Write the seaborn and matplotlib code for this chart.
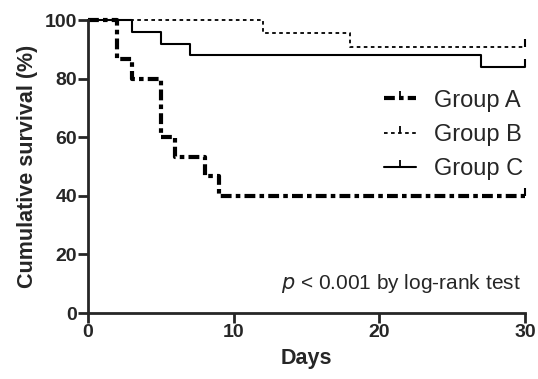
import matplotlib
matplotlib.use("Agg")
import matplotlib.pyplot as plt
import seaborn as sns
import pandas as pd
from matplotlib.lines import Line2D

sns.set_theme(style="ticks")
plt.rcParams['font.family'] = ['Liberation Sans', 'DejaVu Sans']

groups = ["Group A", "Group B", "Group C"]
times_a = [0, 2, 3, 5, 6, 8, 9, 30]
surv_a = [100, 86.7, 80, 60, 53.3, 46.7, 40, 40]
times_b = [0, 12, 18, 30]
surv_b = [100, 95.5, 90.9, 90.9]
times_c = [0, 3, 5, 7, 27, 30]
surv_c = [100, 96, 92, 88, 84, 84]
censor_t = [30, 30, 30]
censor_s = [40, 90.9, 84]
x_ticks = [0, 10, 20, 30]
y_ticks = [0, 20, 40, 60, 80, 100]

styles = {
    "Group A": dict(ls=(0, (2.6, 1.0, 1.1, 1.0)), lw=3.0),
    "Group B": dict(ls=(0, (2.0, 1.9)), lw=1.3),
    "Group C": dict(ls="-", lw=1.5),
}

fig = plt.figure(figsize=(5.38, 3.79), dpi=100)
ax = fig.add_axes([0.1636, 0.174, 0.812, 0.773])

for g, t, s in zip(groups, [times_a, times_b, times_c], [surv_a, surv_b, surv_c]):
    df = pd.DataFrame({"t": t, "s": s})
    sns.lineplot(data=df, x="t", y="s", drawstyle="steps-post", color="black",
                 linestyle=styles[g]["ls"], linewidth=styles[g]["lw"], ax=ax,
                 clip_on=False, estimator=None, sort=False)

sns.scatterplot(x=censor_t, y=censor_s, marker=2, s=30, color="black",
                linewidth=1.5, ax=ax, clip_on=False, zorder=5)

ax.set_xlim(0, 30)
ax.set_ylim(0, 100)
ax.set_xticks(x_ticks)
ax.set_yticks(y_ticks)
ax.set_xticklabels([str(v) for v in x_ticks], fontsize=14, fontweight="bold")
ax.set_yticklabels([str(v) for v in y_ticks], fontsize=14, fontweight="bold")
ax.tick_params(direction="out", length=7, width=2, pad=1)
for sp in ["left", "bottom"]:
    ax.spines[sp].set_linewidth(2)
sns.despine(ax=ax)
ax.set_xlabel("Days", fontsize=15.5, fontweight="bold", labelpad=5)
ax.set_ylabel("Cumulative survival (%)", fontsize=15.5, fontweight="bold", labelpad=5)

handles = [Line2D([], [], color="black", linestyle=styles[g]["ls"], linewidth=styles[g]["lw"],
                  marker=2, markersize=5, markeredgewidth=1.3, markevery=[1],
                  ) for g in groups]
leg = ax.legend(handles, groups, loc="upper right", bbox_to_anchor=(1.045, 0.835), frameon=False,
                fontsize=17, handlelength=1.36, handletextpad=0.76, labelspacing=0.52)

ax.text(0.99, 0.1, r"$p$ < 0.001 by log-rank test", transform=ax.transAxes,
        ha="right", va="center", fontsize=15)

fig.savefig("out.png", dpi=100)
